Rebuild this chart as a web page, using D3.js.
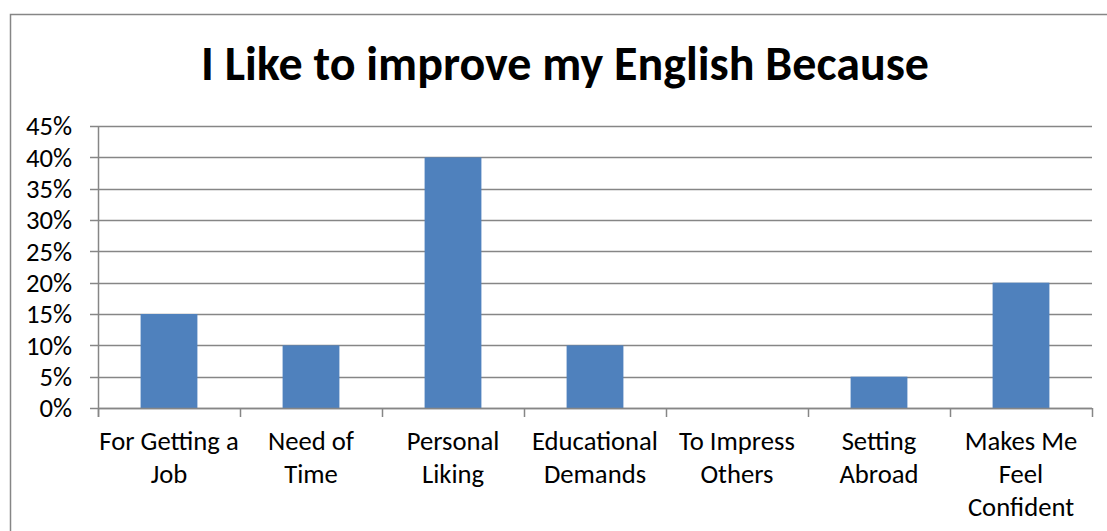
<!DOCTYPE html>
<html><head><meta charset="utf-8">
<script src="https://cdn.jsdelivr.net/npm/d3@7"></script>
<style>html,body{margin:0;padding:0;background:#fff;}svg{display:block;}</style>
</head><body>
<svg id="c" width="1107" height="531"></svg>
<script>
const categories = ["For Getting a Job","Need of Time","Personal Liking","Educational Demands","To Impress Others","Setting Abroad","Makes Me Feel Confident"];
const labelLines = [["For Getting a","Job"],["Need of","Time"],["Personal","Liking"],["Educational","Demands"],["To Impress","Others"],["Setting","Abroad"],["Makes Me","Feel","Confident"]];
const values = [0.15,0.10,0.40,0.10,0.00,0.05,0.20];
const yTicks = [0,0.05,0.10,0.15,0.20,0.25,0.30,0.35,0.40,0.45];
const title = "I Like to improve my English Because";

const svg = d3.select("#c");
const font = "Carlito, Calibri, Lato, sans-serif";
// outer frame
svg.append("rect").attr("x",10.5).attr("y",14.5).attr("width",1110).attr("height",530)
  .attr("fill","none").attr("stroke","#868686").attr("stroke-width",1.5);

const L=98, R=1092, T=126, B=408;
const x = d3.scaleBand().domain(categories).range([L,R]).paddingInner(0.6).paddingOuter(0.3);
const y = d3.scaleLinear().domain([0,0.45]).range([B,T]);

svg.append("text").attr("x",565).attr("y",80).attr("text-anchor","middle")
  .attr("font-family",font).attr("font-weight","bold").attr("font-size",48).attr("fill","#000").text(title);

// gridlines
svg.append("g").selectAll("line").data(yTicks).join("line")
  .attr("x1",L-8).attr("x2",R).attr("y1",d=>Math.round(y(d))+0.5).attr("y2",d=>Math.round(y(d))+0.5)
  .attr("stroke","#868686").attr("stroke-width",1.5);

// y labels
svg.append("g").selectAll("text").data(yTicks).join("text")
  .attr("x",72).attr("y",d=>y(d)).attr("dy","0.35em").attr("text-anchor","end")
  .attr("font-family",font).attr("font-size",26.67).attr("fill","#000").text(d=>Math.round(d*100)+"%");

// bars
svg.append("g").selectAll("rect").data(values).join("rect")
  .attr("x",(d,i)=>x(categories[i])).attr("width",x.bandwidth())
  .attr("y",d=>y(d)).attr("height",d=>B-y(d)).attr("fill","#4F81BD");

// axes lines
svg.append("line").attr("x1",L+0.5).attr("x2",L+0.5).attr("y1",T).attr("y2",B+9).attr("stroke","#868686").attr("stroke-width",1.5);
svg.append("line").attr("x1",L).attr("x2",R).attr("y1",B+0.5).attr("y2",B+0.5).attr("stroke","#868686").attr("stroke-width",1.5);
const step = (R-L)/categories.length;
svg.append("g").selectAll("line").data(d3.range(categories.length+1)).join("line")
  .attr("x1",i=>L+i*step+0.5).attr("x2",i=>L+i*step+0.5).attr("y1",B).attr("y2",B+9)
  .attr("stroke","#868686").attr("stroke-width",1.5);

// x labels
const xl = svg.append("g").selectAll("text").data(labelLines).join("text")
  .attr("font-family",font).attr("font-size",26.67).attr("fill","#000").attr("text-anchor","middle");
xl.each(function(lines,i){
  const cx = x(categories[i]) + x.bandwidth()/2;
  d3.select(this).selectAll("tspan").data(lines).join("tspan")
    .attr("x",cx).attr("y",(d,j)=>450+j*33).text(d=>d);
});
</script>
</body></html>
